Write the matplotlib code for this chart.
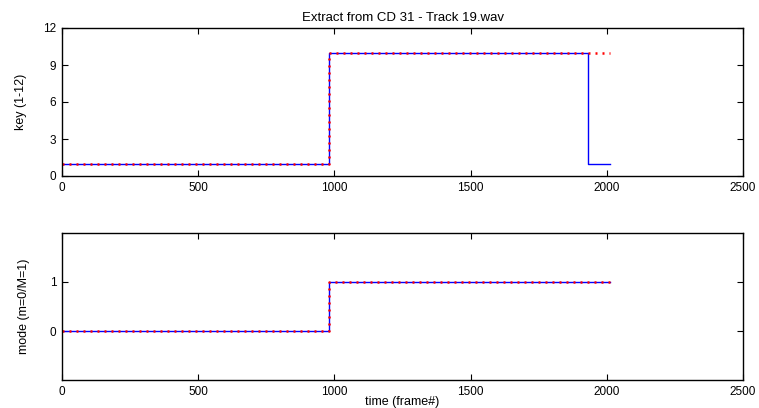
import numpy as np
import matplotlib.pyplot as plt

plt.rcParams['font.family'] = ['Liberation Sans', 'DejaVu Sans']

# key track: estimated (blue) and reference (red dotted)
key_est_frames = [0, 981, 1932, 2012]
key_est_values = [1, 10, 1, 1]
key_ref_frames = [0, 981, 2010]
key_ref_values = [1, 10, 10]

# mode track (m=0 / M=1)
mode_est_frames = [0, 981, 2012]
mode_est_values = [0, 1, 1]
mode_ref_frames = [0, 981, 2012]
mode_ref_values = [0, 1, 1]

x_ticks = [0, 500, 1000, 1500, 2000, 2500]
key_ticks = [0, 3, 6, 9, 12]
mode_ticks = [0, 1]

fig = plt.figure(figsize=(7.59, 4.08), dpi=100)
ax1 = fig.add_axes([62 / 759, 1 - 176 / 408, 681 / 759, 148 / 408])
ax2 = fig.add_axes([62 / 759, 1 - 380 / 408, 681 / 759, 147 / 408])

ax1.step(key_est_frames, key_est_values, where='post', color='blue', lw=1.0)
ax1.step(key_ref_frames, key_ref_values, where='post', color='red', lw=1.8,
         linestyle=(0, (0.8, 2.0)))
ax2.step(mode_est_frames, mode_est_values, where='post', color='blue', lw=1.0)
ax2.step(mode_ref_frames, mode_ref_values, where='post', color='red', lw=1.8,
         linestyle=(0, (0.8, 2.0)))

for ax in (ax1, ax2):
    ax.set_xlim(0, 2500)
    ax.set_xticks(x_ticks)
    ax.tick_params(direction='in', top=True, right=True, length=4, width=0.8,
                   labelsize=8.5, pad=4)
    for s in ax.spines.values():
        s.set_linewidth(1.0)

ax1.set_ylim(0, 12)
ax1.set_yticks(key_ticks)
ax2.set_ylim(-1, 2)
ax2.set_yticks(mode_ticks)

ax1.set_title('Extract from CD 31 - Track 19.wav', fontsize=9.5, pad=5)
ax1.set_ylabel('key (1-12)', fontsize=9, labelpad=12)
ax2.set_ylabel('mode (m=0/M=1)', fontsize=9, labelpad=14)
ax2.set_xlabel('time (frame#)', fontsize=9, labelpad=-1)

fig.savefig('out.png', dpi=100)
